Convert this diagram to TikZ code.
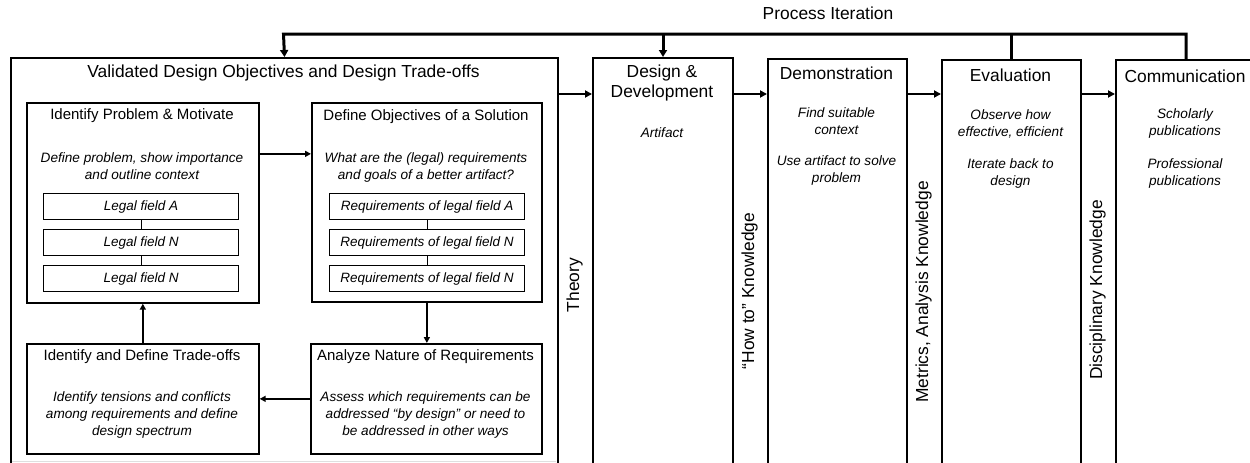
\documentclass[tikz,border=0pt]{standalone}
\usepackage{fontspec}
\setmainfont{Liberation Sans}
\usetikzlibrary{arrows.meta,calc}
\begin{document}
\begin{tikzpicture}[x=1pt,y=-1pt,
  colbox/.style={draw, line width=2pt, anchor=north west, inner sep=0pt},
  inbox/.style={draw, line width=1.7pt, anchor=north west, inner sep=0pt},
  fieldbox/.style={draw, line width=1.1pt, anchor=north west, inner sep=0pt, minimum width=195pt, minimum height=26pt, font=\fontsize{13.5}{16}\selectfont\itshape},
  bigt/.style={inner sep=0pt, align=center, font=\fontsize{17.4}{20}\selectfont},
  midt/.style={inner sep=0pt, align=center, font=\fontsize{15}{18}\selectfont},
  itt/.style={inner sep=0pt, align=center, font=\fontsize{13.6}{17}\selectfont\itshape},
  vlab/.style={inner sep=0pt, rotate=90, font=\fontsize{17.4}{20}\selectfont},
  iarrow/.style={line width=1.6pt, -{Triangle[length=6pt,width=6pt]}},
  carrow/.style={line width=2.8pt, -{Triangle[length=7pt,width=7pt]}},
  tline/.style={line width=3pt},
]
\useasboundingbox (0,0) rectangle (1250,463);
\clip (0,0) rectangle (1250,463);

% main columns
\node[colbox, minimum width=547pt, minimum height=460pt] (L) at (10,57) {};
\node[colbox, minimum width=140pt, minimum height=460pt] (D) at (592,57) {};
\node[colbox, minimum width=139pt, minimum height=460pt] (M) at (767,58) {};
\node[colbox, minimum width=139pt, minimum height=460pt] (E) at (941,59) {};
\node[colbox, minimum width=140pt, minimum height=460pt] (C) at (1115,59) {};

% light bottom trace
\coordinate (g1) at (12,461.5);
\coordinate (g2) at (556,461.5);
\draw[gray!25, line width=1pt] (g1) -- (g2);

% titles of columns
\node[bigt] (Lt) at (283.5,73) {Validated Design Objectives and Design Trade-offs};
\node[bigt] (Dt) at (662,83) {Design \&\\Development};
\node[itt] (Di) at (662,133) {Artifact};
\node[bigt] (Mt) at (836.5,73) {Demonstration};
\node[itt] (Mi1) at (836.5,121.5) {Find suitable\\context};
\node[itt] (Mi2) at (836.5,170.5) {Use artifact to solve\\problem};
\node[bigt] (Et) at (1010.5,75) {Evaluation};
\node[itt] (Ei1) at (1010.5,123.5) {Observe how\\effective, efficient};
\node[itt] (Ei2) at (1010.5,173.5) {Iterate back to\\design};
\node[bigt] (Ct) at (1185,76) {Communication};
\node[itt] (Ci1) at (1185,123.5) {Scholarly\\publications};
\node[itt] (Ci2) at (1185,173.5) {Professional\\publications};

% inner boxes
\node[inbox, minimum width=232pt, minimum height=200pt] (B1) at (26,102) {};
\node[inbox, minimum width=230pt, minimum height=199pt] (B2) at (311,102) {};
\node[inbox, minimum width=232pt, minimum height=110pt] (B3) at (26,343) {};
\node[inbox, minimum width=231pt, minimum height=110pt] (B4) at (310,343) {};

\node[midt] (B1t) at (142,116) {Identify Problem \& Motivate};
\node[itt] (B1i) at (142,166.5) {Define problem, show importance\\and outline context};
\node[midt] (B2t) at (426,117) {Define Objectives of a Solution};
\node[itt] (B2i) at (426,167.5) {What are the (legal) requirements\\and goals of a better artifact?};
\node[midt] (B3t) at (142,357) {Identify and Define Trade-offs};
\node[itt] (B3i) at (142,414.5) {Identify tensions and conflicts\\among requirements and define\\design spectrum};
\node[midt] (B4t) at (425.5,357) {Analyze Nature of Requirements};
\node[itt] (B4i) at (425.5,414.5) {Assess which requirements can be\\addressed “by design” or need to\\be addressed in other ways};

% field boxes
\node[fieldbox] (F1) at (43,193) {Legal field A};
\node[fieldbox] (F2) at (43,229) {Legal field N};
\node[fieldbox] (F3) at (43,265) {Legal field N};
\node[fieldbox] (R1) at (329,193) {Requirements of legal field A};
\node[fieldbox] (R2) at (329,229) {Requirements of legal field N};
\node[fieldbox] (R3) at (329,265) {Requirements of legal field N};
\draw[line width=1.1pt] (F1.south) -- (F2.north);
\draw[line width=1.1pt] (F2.south) -- (F3.north);
\draw[line width=1.1pt] (R1.south) -- (R2.north);
\draw[line width=1.1pt] (R2.south) -- (R3.north);

% inner arrows
\draw[iarrow] ([yshift=49pt]B1.east) -- ([yshift=49pt]B1.east -| B2.west);
\draw[iarrow] (B2.south) -- (B2.south |- B4.north);
\draw[iarrow] (B4.west) -- (B4.west -| B3.east);
\draw[iarrow] (B3.north) -- (B1.south);

% column arrows
\draw[carrow] ([yshift=-37pt]L.north east) -- ([yshift=-37pt]L.north east -| D.west);
\draw[carrow] ([yshift=-37pt]D.north east) -- ([yshift=-37pt]D.north east -| M.west);
\draw[carrow] ([yshift=-36pt]M.north east) -- ([yshift=-36pt]M.north east -| E.west);
\draw[carrow] ([yshift=-35pt]E.north east) -- ([yshift=-35pt]E.north east -| C.west);

% vertical labels
\node[vlab] (V1) at (574.5,285) {Theory};
\node[vlab] (V2) at (749.5,291) {“How to” Knowledge};
\node[vlab] (V3) at (923.5,292) {Metrics, Analysis Knowledge};
\node[vlab] (V4) at (1097.5,290) {Disciplinary Knowledge};

% process iteration
\node[bigt] (PI) at (828,13) {Process Iteration};
\coordinate (T) at (283.5,34);
\draw[tline, -{Triangle[length=7pt,width=8pt]}] (C.north) |- (T) -- (L.north);
\draw[tline, -{Triangle[length=7pt,width=8pt]}] (D.north |- T) -- (D.north);
\draw[tline] (E.north) -- (E.north |- T);
\end{tikzpicture}
\end{document}
